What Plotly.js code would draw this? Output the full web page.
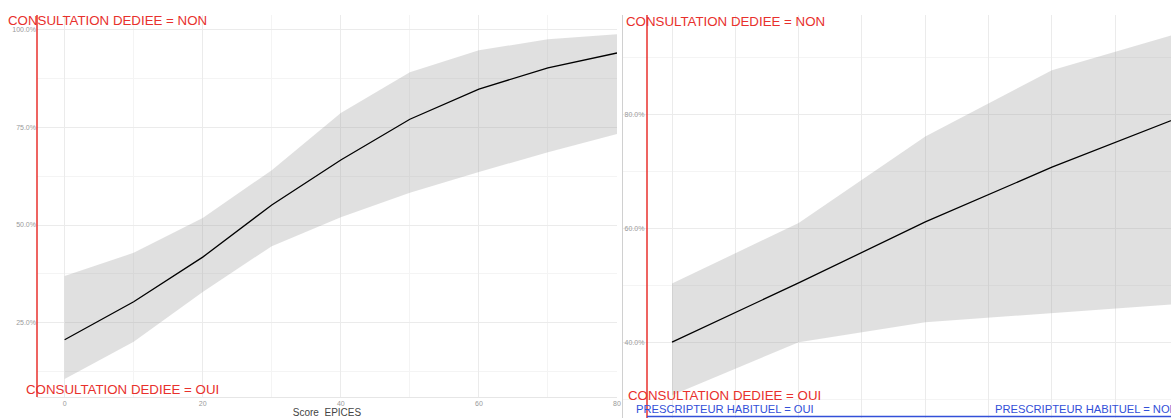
<!DOCTYPE html>
<html>
<head>
<meta charset="utf-8">
<script src="https://cdn.plot.ly/plotly-3.0.1.min.js"></script>
<style>html,body{margin:0;padding:0;background:#fff;}#chart{width:1171px;height:418px;}</style>
</head>
<body>
<div id="chart"></div>
<script>
// Left panel (Score EPICES)
const scoreLeft = [0, 10, 20, 30, 40, 50, 60, 70, 80];
const fitLeft   = [0.207, 0.304, 0.418, 0.551, 0.666, 0.770, 0.847, 0.901, 0.939];
const upperLeft = [0.370, 0.429, 0.518, 0.640, 0.786, 0.890, 0.946, 0.974, 0.987];
const lowerLeft = [0.107, 0.202, 0.329, 0.446, 0.520, 0.582, 0.635, 0.686, 0.732];

// Right panel
const scoreRight = [0, 10, 20, 30, 40];
const fitRight   = [0.400, 0.504, 0.611, 0.707, 0.794];
const upperRight = [0.503, 0.609, 0.761, 0.877, 0.942];
const lowerRight = [0.307, 0.400, 0.435, 0.451, 0.467];

const leftTicks = [0.25, 0.5, 0.75, 1.0];
const rightTicks = [0.4, 0.6, 0.8];
const xTicksLeft = [0, 20, 40, 60, 80];

const labelsConsult = ['CONSULTATION DEDIEE = NON', 'CONSULTATION DEDIEE = OUI'];
const labelsPresc = ['PRESCRIPTEUR HABITUEL = OUI', 'PRESCRIPTEUR HABITUEL = NON'];
const xTitle = 'Score  EPICES';

const W = 1171, H = 418;
const px = x => x / W;
const py = y => 1 - y / H;

const bandFill = 'rgba(153,153,153,0.3)';
const red = '#e8302c';
const blue = '#3350d8';
const FONT = 'Liberation Sans, Arial, sans-serif';
const redFont = {family: FONT, size: 13.3, color: red};
const blueFont = {family: FONT, size: 11.2, color: blue};

const traces = [
  {x: scoreLeft, y: lowerLeft, xaxis: 'x', yaxis: 'y', mode: 'lines', line: {width: 0}, hoverinfo: 'skip', showlegend: false},
  {x: scoreLeft, y: upperLeft, xaxis: 'x', yaxis: 'y', mode: 'lines', line: {width: 0}, fill: 'tonexty', fillcolor: bandFill, showlegend: false},
  {x: scoreLeft, y: fitLeft, xaxis: 'x', yaxis: 'y', mode: 'lines', line: {color: '#000', width: 1.3}, showlegend: false},
  {x: scoreRight, y: lowerRight, xaxis: 'x2', yaxis: 'y2', mode: 'lines', line: {width: 0}, hoverinfo: 'skip', showlegend: false},
  {x: scoreRight, y: upperRight, xaxis: 'x2', yaxis: 'y2', mode: 'lines', line: {width: 0}, fill: 'tonexty', fillcolor: bandFill, showlegend: false},
  {x: scoreRight, y: fitRight, xaxis: 'x2', yaxis: 'y2', mode: 'lines', line: {color: '#000', width: 1.3}, showlegend: false}
];

const gridC = '#ebebeb';
const minorC = '#f4f4f4';
const tickFont = {family: FONT, size: 7, color: '#9a9a9a'};

const layout = {
  width: W, height: H,
  margin: {l: 0, r: 0, t: 0, b: 0},
  paper_bgcolor: '#fff', plot_bgcolor: 'rgba(0,0,0,0)',
  showlegend: false,
  xaxis: {
    domain: [px(37), px(617)], range: [-4, 80], tickvals: xTicksLeft,
    showgrid: true, gridcolor: gridC, gridwidth: 1, zeroline: false,
    minor: {dtick: 10, tick0: 0, showgrid: true, gridcolor: minorC},
    showline: true, linecolor: '#e6e6e6', ticks: '', tickfont: tickFont,
    title: {text: xTitle, font: {family: FONT, size: 10, color: '#444'}, standoff: 2},
    anchor: 'y'
  },
  yaxis: {
    domain: [py(397), py(15)], range: [0.061, 1.036], tickvals: leftTicks, tickformat: '.1%',
    showgrid: true, gridcolor: gridC, zeroline: false, ticks: '', tickfont: tickFont,
    minor: {tickvals: [0.125, 0.375, 0.625, 0.875], showgrid: true, gridcolor: minorC},
    anchor: 'x'
  },
  xaxis2: {
    domain: [px(623), 1], range: [-3.87, 39.4], dtick: 5, tick0: 0,
    showgrid: true, gridcolor: gridC, zeroline: false, showticklabels: false, ticks: '',
    anchor: 'y2'
  },
  yaxis2: {
    domain: [0, py(15)], range: [0.267, 0.974], tickvals: rightTicks, tickformat: '.1%',
    showgrid: true, gridcolor: gridC, zeroline: false, ticks: '', tickfont: tickFont,
    ticklabelposition: 'inside', showline: true, linecolor: '#d0d0d0',
    minor: {tickvals: [0.3, 0.5, 0.7, 0.9], showgrid: true, gridcolor: minorC},
    anchor: 'x2'
  },
  shapes: [
    {type: 'line', xref: 'paper', yref: 'paper', x0: px(37), x1: px(37), y0: py(15), y1: py(397), line: {color: red, width: 1.5}},
    {type: 'line', xref: 'paper', yref: 'paper', x0: px(647), x1: px(647), y0: py(15), y1: py(418), line: {color: red, width: 1.5}},
    {type: 'line', xref: 'paper', yref: 'paper', x0: px(647), x1: 1, y0: py(416.5), y1: py(416.5), line: {color: blue, width: 1.5}}
  ],
  annotations: [
    {text: labelsConsult[0], xref: 'paper', yref: 'paper', x: px(6), y: py(21), xanchor: 'left', yanchor: 'middle', showarrow: false, font: redFont},
    {text: labelsConsult[1], xref: 'paper', yref: 'paper', x: px(24), y: py(389), xanchor: 'left', yanchor: 'middle', showarrow: false, font: redFont},
    {text: labelsConsult[0], xref: 'paper', yref: 'paper', x: px(624), y: py(22), xanchor: 'left', yanchor: 'middle', showarrow: false, font: redFont},
    {text: labelsConsult[1], xref: 'paper', yref: 'paper', x: px(626), y: py(395), xanchor: 'left', yanchor: 'middle', showarrow: false, font: redFont},
    {text: labelsPresc[0], xref: 'paper', yref: 'paper', x: px(634), y: py(409), xanchor: 'left', yanchor: 'middle', showarrow: false, font: blueFont},
    {text: labelsPresc[1], xref: 'paper', yref: 'paper', x: px(993), y: py(409), xanchor: 'left', yanchor: 'middle', showarrow: false, font: blueFont}
  ]
};

Plotly.newPlot('chart', traces, layout, {displayModeBar: false, staticPlot: true});
</script>
</body>
</html>
